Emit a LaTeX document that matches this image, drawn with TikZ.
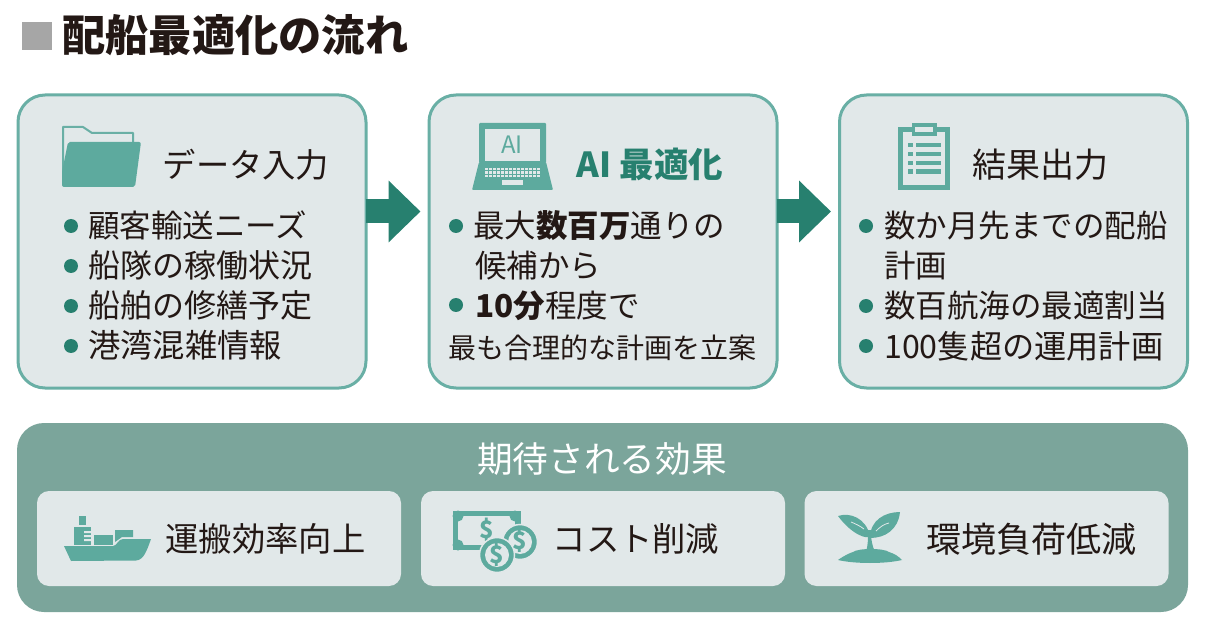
\documentclass[tikz,border=0pt]{standalone}
\usepackage{fontspec}
\setmainfont{Noto Sans CJK JP}
\definecolor{boxfill}{HTML}{E1E8E9}
\definecolor{boxline}{HTML}{69AFA5}
\definecolor{deepteal}{HTML}{27806F}
\definecolor{iconteal}{HTML}{5DAA9E}
\definecolor{panelfill}{HTML}{7BA59B}
\definecolor{inkdark}{HTML}{231815}
\tikzset{
	flowbox/.style={draw=boxline,line width=3pt,fill=boxfill,rounded corners=27pt,minimum width=348pt,minimum height=293pt},
	effectcard/.style={fill=boxfill,rounded corners=12pt,minimum width=364pt,minimum height=95pt},
	flowarrow/.style={draw=deepteal,line width=24pt,-{Triangle[length=32pt,width=60pt]},shorten >=7pt},
	bulletdot/.style={circle,fill=deepteal,inner sep=0pt,minimum size=14pt},
	bodytext/.style={anchor=base west,inner sep=0pt,text=inkdark,font=\fontsize{31.5}{36}\selectfont},
	headtext/.style={anchor=base,inner sep=0pt,text=inkdark,font=\fontsize{34}{40}\selectfont},
	efftext/.style={anchor=base,inner sep=0pt,text=inkdark,font=\fontsize{33.3}{40}\selectfont},
}
\usetikzlibrary{arrows.meta}
\begin{document}
\begin{tikzpicture}[x=1pt,y=-1pt]
	\useasboundingbox (0,0) rectangle (1205,644);
	
	% title
	\node[fill=black!35,minimum width=30pt,minimum height=28pt,inner sep=0pt] (titlemark) at (37,36) {};
	\node[anchor=base west,inner sep=0pt,text=inkdark,font=\fontsize{43.3}{50}\bfseries] (title) at (62,52) {配船最適化の流れ};
	
	% three steps
	\node[flowbox] (inbox) at (192,241.5) {};
	\node[flowbox] (aibox) at (603,241.5) {};
	\node[flowbox] (outbox) at (1013.5,241.5) {};
	\draw[flowarrow] ([yshift=30pt,xshift=-2pt]inbox.east) -- ([yshift=30pt]aibox.west);
	\draw[flowarrow] ([yshift=30pt,xshift=-2pt]aibox.east) -- ([yshift=30pt]outbox.west);
	
	\node[headtext,font=\fontsize{33.3}{40}\selectfont] (inhead) at (246,177.5) {データ入力};
	\node[bulletdot] (ina) at (71,226) {};
	\node[bodytext] (inatext) at (88,238) {顧客輸送ニーズ};
	\node[bulletdot] (inb) at (71,266) {};
	\node[bodytext,font=\fontsize{32}{36}\selectfont] (inbtext) at (88,278) {船隊の稼働状況};
	\node[bulletdot] (inc) at (71,306) {};
	\node[bodytext,font=\fontsize{32}{36}\selectfont] (inctext) at (88,318) {船舶の修繕予定};
	\node[bulletdot] (ind) at (71,346) {};
	\node[bodytext,font=\fontsize{32.3}{36}\selectfont] (indtext) at (88,358) {港湾混雑情報};
	
	\node[headtext,text=deepteal,font=\fontsize{34.5}{40}\bfseries] (aihead) at (650,178) {AI 最適化};
	\node[bulletdot] (aia) at (456,226) {};
	\node[bodytext] (aiatext) at (473,238) {最大\textbf{数百万}通りの};
	\node[bodytext] (aiatextb) at (475,278) {候補から};
	\node[bulletdot] (aib) at (456,305) {};
	\node[bodytext] (aibtext) at (475,318) {\textbf{10分}程度で};
	\node[bodytext,font=\fontsize{28}{34}\selectfont] (aibtextb) at (448,359) {最も合理的な計画を立案};
	
	\node[headtext] (outhead) at (1040,178) {結果出力};
	\node[bulletdot] (outa) at (866,226) {};
	\node[bodytext] (outatext) at (884,238) {数か月先までの配船};
	\node[bodytext] (outatextb) at (884,278) {計画};
	\node[bulletdot] (outb) at (866,306) {};
	\node[bodytext] (outbtext) at (884,318) {数百航海の最適割当};
	\node[bulletdot] (outc) at (866,346) {};
	\node[bodytext,font=\fontsize{32.2}{36}\selectfont] (outctext) at (884,359) {100隻超の運用計画};
	
	% folder
	\draw[boxline,line width=2pt,fill=boxfill,line join=round] (63,172) -- (63,127) -- (83,127) -- (92,133) -- (133,133) -- (133,144);
	\fill[iconteal,rounded corners=2pt] (68,142) -- (141,142) -- (135,187) -- (62,187) -- (62,172) -- cycle;
	
	% laptop
	\fill[iconteal,rounded corners=1pt] (479,123) rectangle (546,163);
	\fill[boxfill] (485,129) rectangle (540,161);
	\fill[iconteal,rounded corners=1pt] (479,162) -- (546,162) -- (553,190) -- (472,190) -- cycle;
	\node[text=iconteal,inner sep=0pt,font=\fontsize{24}{26}\selectfont] (laptoplabel) at (512,145) {AI};
	\foreach \Y in {168,171.5,175}{
		\foreach \X in {485,489,...,537}{
			\fill[boxfill] (\X,\Y) rectangle +(3,2.2);
		}
	}
	\fill[boxfill] (502,180) rectangle (523,185);
	
	% clipboard
	\fill[iconteal] (898,127) rectangle (950,190);
	\fill[boxfill] (903,132) rectangle (945,185);
	\fill[iconteal] (912,123) rectangle (937,136);
	\fill[boxfill] (915,127) rectangle (933,132);
	\foreach \Y in {143,152,161,169.5}{
		\fill[iconteal] (908,\Y) rectangle +(5,4.5);
		\fill[iconteal] (916,\Y) rectangle +(25,4.5);
	}
	
	% effects panel
	\node[fill=panelfill,rounded corners=27pt,minimum width=1171pt,minimum height=189pt] (panel) at (602.5,517.5) {};
	\node[anchor=base,inner sep=0pt,text=white,font=\fontsize{35.7}{40}\selectfont] (panelhead) at (602,472) {期待される効果};
	\node[effectcard] (cardship) at (219,538.5) {};
	\node[effectcard] (cardcost) at (603,538.5) {};
	\node[effectcard] (cardeco) at (986.5,538.5) {};
	\node[efftext] (shiptext) at (265.5,551) {運搬効率向上};
	\node[efftext] (costtext) at (636,551) {コスト削減};
	\node[efftext,font=\fontsize{35}{40}\selectfont] (ecotext) at (1031.5,552) {環境負荷低減};
	
	% ship
	\fill[iconteal] (79,516) rectangle (86,525);
	\fill[iconteal] (74,527) rectangle (91,545);
	\fill[boxfill] (84,531) rectangle (91,533) (84,535) rectangle (91,537) (84,539) rectangle (91,541);
	\fill[iconteal] (94,535) rectangle (113,545);
	\fill[iconteal] (115,530) -- (133,530) -- (133,537) -- (122,537) -- (115,542) -- cycle;
	\fill[iconteal] (64,546) -- (113,546) .. controls (117,546) and (118,539) .. (123,539) -- (151,539) .. controls (147,550) and (144,560) .. (136,560.5) -- (71,561) -- cycle;
	
	% money
	\fill[iconteal] (453,511) rectangle (521,550);
	\fill[boxfill] (458,516) rectangle (515,545);
	\foreach \X/\Y in {458/516,515/516,458/545,515/545}{
		\fill[iconteal] (\X,\Y) circle (5.5);
	}
	\node[text=iconteal,inner sep=0pt,font=\fontsize{24}{26}\bfseries] (billsign) at (487,530) {\$};
	\draw[boxfill,line width=1.5pt,fill=iconteal] (520,542) circle (17.5);
	\fill[boxfill] (520,542) circle (12);
	\draw[boxfill,line width=1.5pt,fill=iconteal] (497,555) circle (17.5);
	\fill[boxfill] (497,555) circle (12);
	\node[text=iconteal,inner sep=0pt,font=\fontsize{24}{26}\bfseries] (coinsigna) at (520,541) {\$};
	\node[text=iconteal,inner sep=0pt,font=\fontsize{24}{26}\bfseries] (coinsignb) at (497,555) {\$};
	
	% sprout
	\fill[iconteal] (838,560) .. controls (845,555) and (850,553) .. (853,552) .. controls (858,548) and (884,548) .. (889,552) .. controls (895,554) and (898,556) .. (902,560) .. controls (885,564) and (855,564) .. (838,560) -- cycle;
	\fill[iconteal] (866,552) .. controls (868,545) and (868,540) .. (868,530) -- (871,530) .. controls (871,540) and (872,545) .. (875,552) -- cycle;
	\fill[iconteal] (838,516) .. controls (850,512) and (866,518) .. (870,536) .. controls (868,540) and (852,535) .. (838,516) -- cycle;
	\fill[iconteal] (900,512) .. controls (885,512) and (870,520) .. (870,538) .. controls (885,538) and (898,530) .. (900,512) -- cycle;
	\draw[boxfill,line width=.8pt] (851,522) .. controls (856,524) and (860,526) .. (864,529);
	\draw[boxfill,line width=.8pt] (889,523) .. controls (884,524) and (880,527) .. (876,531);
\end{tikzpicture}
\end{document}
